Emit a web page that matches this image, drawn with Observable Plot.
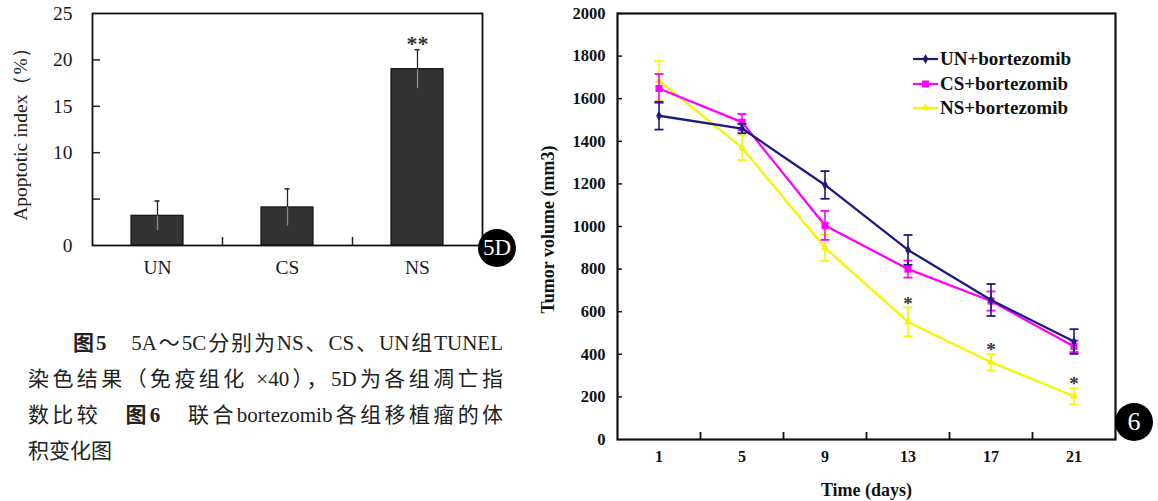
<!DOCTYPE html>
<html>
<head>
<meta charset="utf-8">
<script src="https://cdn.jsdelivr.net/npm/d3@7"></script>
<script src="https://cdn.jsdelivr.net/npm/@observablehq/plot@0.6"></script>
<style>
  html, body { margin: 0; padding: 0; background: #fff; }
  #page { position: relative; width: 1158px; height: 501px; overflow: hidden; background: #fff; }
  .badge { position: absolute; border-radius: 50%; background: #000; color: #fff;
           font-family: "Liberation Serif", serif; display: flex; align-items: center; justify-content: center; }
  .cap { position: absolute; font-family: "Liberation Serif", "Noto Sans CJK SC", serif; font-size: 21px;
         line-height: 36px; color: #222; white-space: nowrap; }
  .just { text-align: justify; text-align-last: justify; text-justify: inter-character; }
  .legrow { position: absolute; display: flex; align-items: center; height: 22px;
            font-family: "Liberation Serif", serif; font-weight: bold; font-size: 19px; color: #111; }
</style>
</head>
<body>
<div id="page"></div>
<script>
// ---------- Data: Fig 5D ----------
const groups = ["UN", "CS", "NS"];
const apoptoticIndex = [3.2, 4.1, 19.0];
const apoptoticError = [1.6, 2.0, 2.1];
const apoptoticSig = ["", "", "**"];
const apoptoticTickLabels = [0, 10, 15, 20, 25];
const apoptoticTickMarks = [5, 10, 15, 20];

// ---------- Data: Fig 6 ----------
const days = [1, 5, 9, 13, 17, 21];
const seriesNames = ["UN+bortezomib", "CS+bortezomib", "NS+bortezomib"];
const seriesColors = ["#1c1c80", "#ff00ff", "#f5f500"];
const seriesSymbols = ["diamond", "square", "triangle"];
const unVolume = [1520, 1460, 1195, 890, 655, 460];
const unError  = [65, 22, 65, 70, 75, 58];
const csVolume = [1648, 1490, 1005, 800, 650, 437];
const csError  = [68, 38, 68, 40, 45, 27];
const nsVolume = [1685, 1370, 900, 552, 363, 203];
const nsError  = [92, 58, 62, 68, 38, 38];
const nsSig    = ["", "", "", "*", "*", "*"];
const volumeTicks = [0, 200, 400, 600, 800, 1000, 1200, 1400, 1600, 1800, 2000];

// ---------- Caption text ----------
const captionLines = [
  "<b>图5</b>　5A～5C分别为NS、CS、UN组TUNEL",
  "染色结果（免疫组化 ×40），5D为各组凋亡指",
  "数比较　<b>图6</b>　联合bortezomib各组移植瘤的体",
  "积变化图"
];

const page = document.getElementById("page");
const serif = "'Liberation Serif', 'Times New Roman', serif";

// ---------- Left chart ----------
const apo = groups.map((g, i) => ({group: g, value: apoptoticIndex[i], err: apoptoticError[i], sig: apoptoticSig[i]}));
const L = {width: 530, height: 290, ml: 92, mr: 48, mt: 13, mb: 45};
const Liw = L.width - L.ml - L.mr, Lih = L.height - L.mt - L.mb;

const left = Plot.plot({
  width: L.width, height: L.height,
  marginLeft: L.ml, marginRight: L.mr, marginTop: L.mt, marginBottom: L.mb,
  style: `font-family: ${serif}; font-size: 19px; color: #1a1a1a; background: transparent; overflow: visible;`,
  x: {type: "band", domain: groups, paddingInner: 0.6, paddingOuter: 0.3, label: null},
  y: {domain: [0, 25], label: null},
  marks: [
    Plot.barY(apo, {x: "group", y: "value", fill: "#333", stroke: "#111", strokeWidth: 1.2}),
    Plot.ruleX(apo, {x: "group", y1: d => d.value - d.err, y2: "value", stroke: "#8a8a8a", strokeWidth: 1.3}),
    Plot.ruleX(apo, {x: "group", y1: "value", y2: d => d.value + d.err, stroke: "#222", strokeWidth: 1.3}),
    Plot.tickY(apo, {x: "group", y: d => d.value + d.err, insetLeft: 23.5, insetRight: 23.5, stroke: "#222", strokeWidth: 1.5}),
    Plot.text(apo, {x: "group", y: d => d.value + d.err, text: "sig", dy: -6, fontSize: 22, fontWeight: "bold", fill: "#333"}),
    Plot.tickY(apoptoticTickMarks, {y: d => d, insetRight: Liw - 8, stroke: "#222", strokeWidth: 1.5}),
    Plot.tickX(groups.slice(0, -1), {x: d => d, dx: Liw / groups.length / 2, insetTop: Lih - 8, stroke: "#222", strokeWidth: 1.5}),
    Plot.frame({stroke: "#111", strokeWidth: 1.8}),
    Plot.axisY({ticks: apoptoticTickLabels, tickSize: 0, tickPadding: 20, fontSize: 19.5, tickFormat: d => String(d)}),
    Plot.axisX({tickSize: 0, tickPadding: 15, fontSize: 19.5}),
    Plot.text(["Apoptotic index（%）"], {frameAnchor: "left", textAnchor: "middle", lineAnchor: "middle", rotate: -90, dx: -72, fontSize: 19.5, fill: "#1a1a1a"})
  ]
});
left.style.position = "absolute"; left.style.left = "0px"; left.style.top = "0px";
page.appendChild(left);

// ---------- Right chart ----------
const volumes = [unVolume, csVolume, nsVolume];
const errors = [unError, csError, nsError];
const rows = seriesNames.map((s, k) => days.map((d, i) => ({
  series: s, day: d, v: volumes[k][i], e: errors[k][i], sig: k === 2 ? nsSig[i] : ""
})));
const boundaries = d3.pairs(days, (a, b) => (a + b) / 2);
const capSymbol = {draw(ctx, size) { const w = Math.sqrt(size / Math.PI); ctx.moveTo(-w, 0); ctx.lineTo(w, 0); }};

const R = {width: 628, height: 501, ml: 87, mr: 43, mt: 13, mb: 62};
const Riw = R.width - R.ml - R.mr, Rih = R.height - R.mt - R.mb;

const drawOrder = [2, 1, 0];
const seriesMarks = drawOrder.flatMap(k => {
  const c = seriesColors[k];
  return [
    Plot.ruleX(rows[k], {x: "day", y1: d => d.v - d.e, y2: d => d.v + d.e, stroke: c, strokeWidth: 1.6}),
    Plot.dot(rows[k], {x: "day", y: d => d.v + d.e, symbol: capSymbol, r: 4.5, stroke: c, strokeWidth: 1.8, fill: "none"}),
    Plot.dot(rows[k], {x: "day", y: d => d.v - d.e, symbol: capSymbol, r: 4.5, stroke: c, strokeWidth: 1.8, fill: "none"}),
    Plot.line(rows[k], {x: "day", y: "v", stroke: c, strokeWidth: 2.3}),
    Plot.dot(rows[k], {x: "day", y: "v", symbol: seriesSymbols[k], r: k === 1 ? 4 : 3, fill: c, stroke: "none"})
  ];
});

const right = Plot.plot({
  width: R.width, height: R.height,
  marginLeft: R.ml, marginRight: R.mr, marginTop: R.mt, marginBottom: R.mb,
  style: `font-family: ${serif}; font-weight: bold; font-size: 16px; color: #111; background: transparent; overflow: visible;`,
  x: {domain: [-1, 23], label: null},
  y: {domain: [0, 2000], label: null},
  marks: [
    ...seriesMarks,
    Plot.text(rows[2], {x: "day", y: d => d.v + d.e, text: "sig", dy: -4, fontSize: 19, fontWeight: "bold", fill: "#333"}),
    Plot.tickY(volumeTicks.slice(1), {y: d => d, insetRight: Riw - 5, stroke: "#111", strokeWidth: 1.5}),
    Plot.tickX(boundaries, {x: d => d, insetTop: Rih - 7, stroke: "#111", strokeWidth: 1.8}),
    Plot.frame({stroke: "#111", strokeWidth: 2.2}),
    Plot.axisY({ticks: volumeTicks, tickSize: 0, tickPadding: 12, tickFormat: d => String(d), fontSize: 16.5, fontWeight: "bold"}),
    Plot.axisX({ticks: days, tickSize: 0, tickPadding: 11, tickFormat: d => String(d), fontSize: 16, fontWeight: "bold"}),
    Plot.text(["Tumor volume (mm3)"], {frameAnchor: "left", textAnchor: "middle", lineAnchor: "middle", rotate: -90, dx: -69, dy: 3, fontSize: 18, fontWeight: "bold", fill: "#111"}),
    Plot.text(["Time (days)"], {frameAnchor: "bottom", lineAnchor: "middle", dy: 51, fontSize: 18, fontWeight: "bold", fill: "#111"})
  ]
});
right.style.position = "absolute"; right.style.left = "530px"; right.style.top = "0px";
page.appendChild(right);

// ---------- Legend (inside right plot) ----------
seriesNames.forEach((name, k) => {
  const row = document.createElement("div");
  row.className = "legrow";
  row.style.left = "913px";
  row.style.top = (59 + 24.5 * k - 11) + "px";
  const sym = d3.symbol(d3[{diamond: "symbolDiamond", square: "symbolSquare", triangle: "symbolTriangle"}[seriesSymbols[k]]], k === 1 ? 50 : 28)();
  row.innerHTML = `<svg width="25" height="22" style="margin-right:2px"><line x1="0" y1="11" x2="25" y2="11" stroke="${seriesColors[k]}" stroke-width="2.2"/><path d="${sym}" transform="translate(12.5,11)" fill="${seriesColors[k]}"/></svg><span>${name}</span>`;
  page.appendChild(row);
});

// ---------- Badges ----------
function badge(text, cx, cy, r, fs) {
  const b = document.createElement("div");
  b.className = "badge";
  b.style.left = (cx - r) + "px"; b.style.top = (cy - r) + "px";
  b.style.width = (2 * r) + "px"; b.style.height = (2 * r) + "px";
  b.style.fontSize = fs + "px";
  b.textContent = text;
  page.appendChild(b);
}
badge("5D", 497, 248, 19, 23);
badge("6", 1134, 422, 19, 26);

// ---------- Caption ----------
const capLayout = [
  {left: 73, width: 430, just: true},
  {left: 28, width: 475, just: true},
  {left: 28, width: 475, just: true},
  {left: 28, width: null, just: false}
];
captionLines.forEach((t, i) => {
  const d = document.createElement("div");
  d.className = "cap" + (capLayout[i].just ? " just" : "");
  d.style.left = capLayout[i].left + "px";
  d.style.top = (325 + 36 * i) + "px";
  if (capLayout[i].width) d.style.width = capLayout[i].width + "px";
  d.innerHTML = t;
  page.appendChild(d);
});
</script>
</body>
</html>
